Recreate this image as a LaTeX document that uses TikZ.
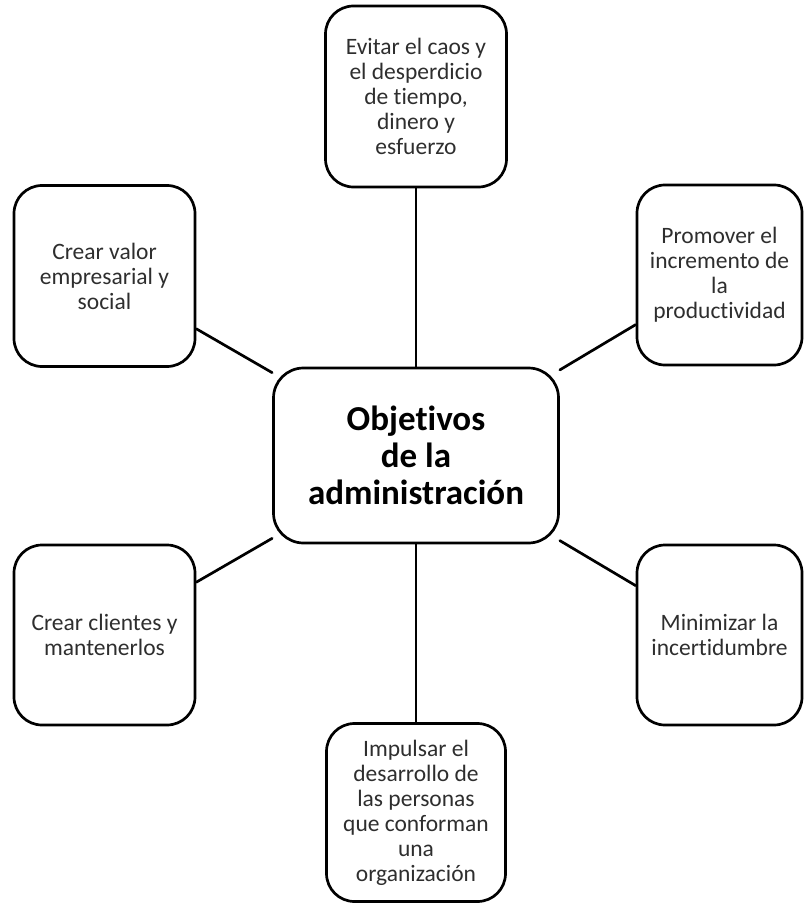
\documentclass[tikz,border=0pt]{standalone}
\usepackage{fontspec}
\setmainfont{Carlito}[Ligatures={NoCommon}]
\begin{document}
\begin{tikzpicture}[x=1pt, y=-1pt, line width=2.7pt, line join=round, line cap=round,
	obj/.style={draw, rounded corners=28pt, align=center, inner sep=0pt, text=black!82,
		font=\fontsize{23.5}{25}\selectfont, minimum width=181pt, minimum height=181pt},
	centro/.style={draw, rounded corners=30pt, align=center, inner sep=0pt,
		font=\fontsize{35}{37}\selectfont\bfseries, minimum width=285pt, minimum height=175pt}]
	\useasboundingbox (0,0) rectangle (804,904);
	\node[centro] (objetivos) at (416,455.5) {Objetivos\\de la\\administración};
	\node[obj] (evitar) at (416,96.5) {Evitar el caos y\\el desperdicio\\de tiempo,\\dinero y\\esfuerzo};
	\node[obj] (valor) at (104.5,276) {Crear valor\\empresarial y\\social};
	\node[obj, minimum width=165pt, minimum height=180pt] (promover) at (719.5,275) {Promover el\\incremento de\\la\\productividad};
	\node[obj, minimum height=180pt] (clientes) at (104.5,635) {Crear clientes y\\mantenerlos};
	\node[obj, minimum width=165pt, minimum height=180pt] (minimizar) at (719.5,635) {Minimizar la\\incertidumbre};
	\node[obj, minimum width=179pt, minimum height=178pt] (impulsar) at (416,812.5) {Impulsar el\\desarrollo de\\las personas\\que conforman\\una\\organización};
	\foreach \n in {evitar,valor,promover,clientes,minimizar,impulsar} \draw (objetivos)--(\n);
\end{tikzpicture}
\end{document}
